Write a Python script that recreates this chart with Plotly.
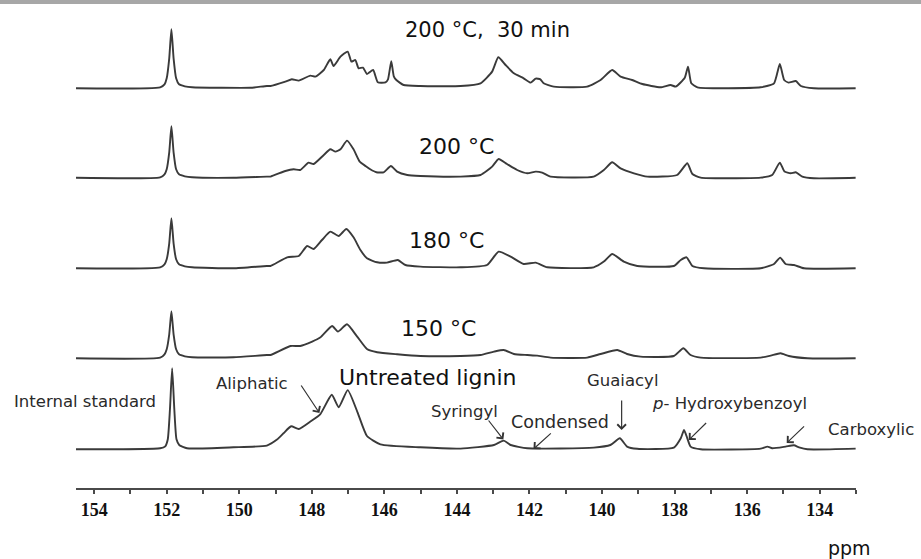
import plotly.graph_objects as go

# ---------------- data ----------------
sample_names = ["200 °C, 30 min", "200 °C", "180 °C", "150 °C", "Untreated lignin"]
stack_offsets = [399.7, 309.7, 219.7, 129.7, 38.7]

tick_values = [154, 152, 150, 148, 146, 144, 142, 140, 138, 136, 134]

ppm_200c_30min = [154.50, 152.18, 152.06, 152.00, 151.93, 151.87, 151.81, 151.74, 151.66, 151.50, 151.30,
                  150.50, 149.70, 149.24, 149.14, 148.73, 148.55, 148.36, 148.04, 147.90, 147.67, 147.49,
                  147.40, 147.21, 147.01, 146.91, 146.80, 146.71, 146.59, 146.48, 146.31, 146.18, 145.97,
                  145.90, 145.81, 145.74, 145.67, 145.47, 145.01, 143.90, 143.35, 143.03, 142.86, 142.66,
                  142.43, 142.16, 141.97, 141.83, 141.70, 141.61, 141.33, 140.41, 140.04, 139.72, 139.49,
                  139.17, 138.89, 138.39, 138.11, 137.97, 137.72, 137.63, 137.54, 137.37, 135.63, 135.26,
                  135.10, 134.98, 134.86, 134.66, 134.52, 134.16, 133.01]
int_200c_30min = [0.0, 1.0, 4.0, 10.0, 30.0, 59.0, 30.0, 10.0, 4.0, 2.0, 1.0,
                  0.5, 0.5, 2.3, 2.3, 6.7, 9.0, 7.7, 12.7, 11.7, 18.3, 29.0,
                  22.3, 31.7, 36.7, 26.7, 28.3, 20.0, 20.7, 14.3, 18.3, 6.0, 6.0,
                  9.0, 27.0, 12.0, 8.3, 3.3, 2.3, 2.3, 5.0, 16.7, 31.0, 23.3,
                  15.0, 10.0, 5.7, 9.7, 9.0, 5.0, 1.7, 1.7, 8.3, 18.3, 11.7,
                  8.3, 4.3, 1.0, 3.3, 1.7, 10.5, 21.7, 5.0, 1.0, 1.0, 5.0,
                  24.3, 8.3, 5.7, 7.3, 2.3, 0.0, 0.0]

ppm_200c = [154.50, 152.18, 152.06, 152.00, 151.93, 151.87, 151.81, 151.74, 151.66, 151.50, 151.30,
            150.16, 149.24, 149.14, 148.73, 148.50, 148.32, 148.09, 147.95, 147.67, 147.49, 147.35,
            147.21, 147.03, 146.85, 146.68, 146.52, 146.39, 146.22, 146.02, 145.82, 145.65, 145.37,
            145.01, 143.90, 143.35, 143.03, 142.85, 142.62, 142.34, 142.06, 141.83, 141.65, 141.42,
            140.23, 139.95, 139.72, 139.49, 139.12, 138.75, 137.93, 137.65, 137.51, 137.28, 135.63,
            135.31, 135.10, 134.97, 134.80, 134.66, 134.48, 134.16, 133.01]
int_200c = [0.5, 1.0, 4.0, 9.0, 26.0, 52.0, 26.0, 9.0, 4.0, 2.0, 1.0,
            0.5, 1.7, 1.7, 7.3, 9.0, 8.3, 15.7, 14.3, 23.3, 29.0, 26.7,
            29.0, 37.7, 29.0, 16.7, 12.3, 9.0, 6.0, 6.0, 12.3, 6.7, 3.3,
            2.3, 1.7, 3.3, 11.7, 19.3, 14.3, 8.3, 5.0, 6.7, 5.7, 1.7,
            1.7, 8.3, 16.0, 10.0, 5.0, 1.7, 3.3, 15.0, 4.3, 0.7, 0.7,
            3.3, 15.7, 6.7, 5.0, 6.0, 1.7, 0.0, 0.5]

ppm_180c = [154.50, 152.18, 152.06, 152.00, 151.93, 151.87, 151.81, 151.74, 151.66, 151.50, 151.30,
            150.16, 149.24, 149.14, 148.68, 148.36, 148.13, 147.95, 147.72, 147.49, 147.26, 147.05,
            146.85, 146.66, 146.48, 146.20, 145.93, 145.63, 145.42, 145.01, 143.90, 143.17, 142.85,
            142.52, 142.16, 141.83, 141.51, 140.23, 139.95, 139.72, 139.40, 139.03, 138.02, 137.83,
            137.67, 137.51, 137.19, 135.63, 135.26, 135.09, 134.94, 134.71, 134.43, 133.01]
int_180c = [0.0, 1.0, 4.0, 9.0, 25.0, 50.0, 25.0, 9.0, 4.0, 2.0, 1.0,
            0.0, 2.3, 2.3, 11.0, 12.3, 22.3, 19.3, 28.3, 36.7, 32.3, 39.3,
            31.0, 18.3, 10.0, 6.0, 5.7, 8.3, 3.3, 1.7, 1.0, 3.3, 16.7,
            11.7, 4.3, 5.7, 1.0, 1.0, 6.7, 14.3, 6.7, 2.3, 2.3, 8.3,
            11.0, 2.3, 0.0, 0.0, 4.3, 10.7, 4.3, 3.3, 0.0, 0.0]

ppm_150c = [154.50, 152.18, 152.06, 152.00, 151.93, 151.87, 151.81, 151.74, 151.66, 151.50, 151.30,
            150.16, 149.24, 149.14, 148.59, 148.32, 147.99, 147.77, 147.44, 147.28, 147.03, 146.75,
            146.48, 146.20, 145.65, 145.01, 143.90, 143.35, 142.98, 142.71, 142.43, 142.06, 141.79,
            141.42, 140.41, 140.04, 139.58, 139.31, 138.94, 138.02, 137.76, 137.56, 137.28, 135.63,
            135.35, 135.08, 134.85, 134.34, 133.01]
int_150c = [0.0, 0.7, 4.0, 9.0, 24.0, 47.0, 24.0, 9.0, 4.0, 2.0, 1.0,
            1.0, 3.3, 3.3, 12.3, 12.3, 16.7, 20.7, 32.3, 26.7, 34.0, 21.7,
            9.3, 6.0, 4.0, 2.3, 2.3, 3.3, 6.7, 8.3, 4.3, 3.3, 2.7,
            0.7, 0.7, 4.3, 8.3, 4.3, 1.7, 2.3, 10.0, 3.3, 0.7, 0.7,
            2.7, 5.0, 2.3, 0.0, 0.0]

ppm_untreated = [154.50, 152.18, 152.04, 151.97, 151.91, 151.85, 151.79, 151.73, 151.65, 151.44,
                 150.16, 149.24, 148.96, 148.78, 148.57, 148.36, 148.04, 147.77, 147.45, 147.26,
                 147.01, 146.74, 146.48, 146.11, 145.01, 143.90, 142.98, 142.71, 142.52, 142.06,
                 140.23, 139.77, 139.51, 139.31, 139.03, 138.02, 137.83, 137.74, 137.65, 137.56,
                 137.28, 135.63, 135.44, 135.31, 134.94, 134.71, 134.57, 134.34, 133.01]
int_untreated = [0.0, 1.0, 3.0, 10.0, 40.0, 81.0, 40.0, 10.0, 4.0, 1.0,
                 2.0, 3.7, 9.7, 16.0, 23.0, 20.3, 27.8, 35.0, 54.5, 42.0,
                 59.2, 37.0, 13.3, 5.0, 2.0, 0.7, 4.3, 8.7, 4.3, 1.0,
                 1.7, 4.3, 11.0, 2.7, 0.5, 1.7, 11.0, 19.3, 11.0, 2.7,
                 0.0, 0.7, 2.7, 1.0, 2.7, 4.0, 2.0, 0.0, 0.7]

spectra_ppm = [ppm_200c_30min, ppm_200c, ppm_180c, ppm_150c, ppm_untreated]
spectra_int = [int_200c_30min, int_200c, int_180c, int_150c, int_untreated]

# ---------------- figure ----------------
fig = go.Figure()
for name, xs, ys, off in zip(sample_names, spectra_ppm, spectra_int, stack_offsets):
    fig.add_trace(go.Scatter(
        x=xs, y=[off + v for v in ys], mode="lines", name=name,
        line=dict(color="#3a3a3a", width=1.9, shape="spline", smoothing=0.5),
        showlegend=False, hoverinfo="skip"))

SANS = "DejaVu Sans"
big = dict(family=SANS, size=22, color="#111111")
small = dict(family=SANS, size=16.5, color="#2a2a2a")

annotations = [
    dict(x=143.16, y=458, text="200 °C,\u00a0 30 min", font=dict(family=SANS, size=21, color="#111111")),
    dict(x=144.01, y=342, text=sample_names[1], font=big),
    dict(x=144.29, y=248, text=sample_names[2], font=big),
    dict(x=144.51, y=160, text=sample_names[3], font=big),
    dict(x=144.80, y=111, text=sample_names[4], font=big),
    dict(x=154.26, y=87, text="Internal standard", font=small),
    dict(x=149.64, y=105, text="Aliphatic", font=small),
    dict(x=143.79, y=77, text="Syringyl", font=small),
    dict(x=141.17, y=66, text="Condensed", font=dict(family=SANS, size=17.5, color="#2a2a2a")),
    dict(x=139.43, y=108, text="Guaiacyl", font=small),
    dict(x=136.50, y=84.5, text="<i>p</i>- Hydroxybenzoyl", font=small),
]
for a in annotations:
    a.update(xref="x", yref="y", showarrow=False, xanchor="center", yanchor="middle")

# labels lying outside the axis ranges are placed in paper coordinates
annotations.append(dict(x=1.0192, y=0.1234, xref="paper", yref="paper", text="Carboxylic",
                        font=small, showarrow=False, xanchor="center", yanchor="middle"))
annotations.append(dict(x=0.9917, y=-0.1255, xref="paper", yref="paper", text="ppm",
                        font=dict(family=SANS, size=19, color="#111111"),
                        showarrow=False, xanchor="center", yanchor="middle"))

arrows = [
    (148.32, 104, 147.79, 75),    # Aliphatic
    (143.16, 69, 142.72, 48.5),   # Syringyl
    (141.37, 56, 141.89, 39),     # Condensed
    (139.46, 89, 139.46, 58),     # Guaiacyl
    (137.09, 66.5, 137.61, 48),   # p-Hydroxybenzoyl
    (134.39, 63, 134.91, 45),     # Carboxylic
]
for x0, y0, x1, y1 in arrows:
    annotations.append(dict(
        x=x1, y=y1, ax=x0, ay=y0, xref="x", yref="y", axref="x", ayref="y",
        text="", showarrow=True, arrowhead=4, arrowsize=1.4, arrowwidth=1.2,
        arrowcolor="#333333", standoff=0, startstandoff=0))

fig.update_layout(
    width=921, height=559,
    margin=dict(l=76, r=65, t=10, b=71),
    paper_bgcolor="white", plot_bgcolor="white",
    annotations=annotations,
    shapes=[dict(type="rect", xref="paper", yref="paper",
                 x0=-0.1, x1=1.09, y0=1.0126, y1=1.03,
                 fillcolor="#a7a7a7", line=dict(width=0), layer="above")],
    xaxis=dict(
        range=[154.5, 133.0], showgrid=False, zeroline=False,
        showline=True, linecolor="#4a4a4a", linewidth=1.5,
        tickmode="array", tickvals=tick_values, ticktext=[str(v) for v in tick_values],
        ticks="outside", ticklen=4, tickwidth=1.5, tickcolor="#4a4a4a",
        minor=dict(dtick=1, ticks="outside", ticklen=4, tickwidth=1.5, tickcolor="#4a4a4a", showgrid=False),
        tickfont=dict(family="Liberation Serif", size=18, color="#111111", weight="bold"),
        ticklabelstandoff=1,
    ),
    yaxis=dict(range=[0, 478], visible=False, showgrid=False, zeroline=False, fixedrange=True),
)

fig.write_html("out.html")
